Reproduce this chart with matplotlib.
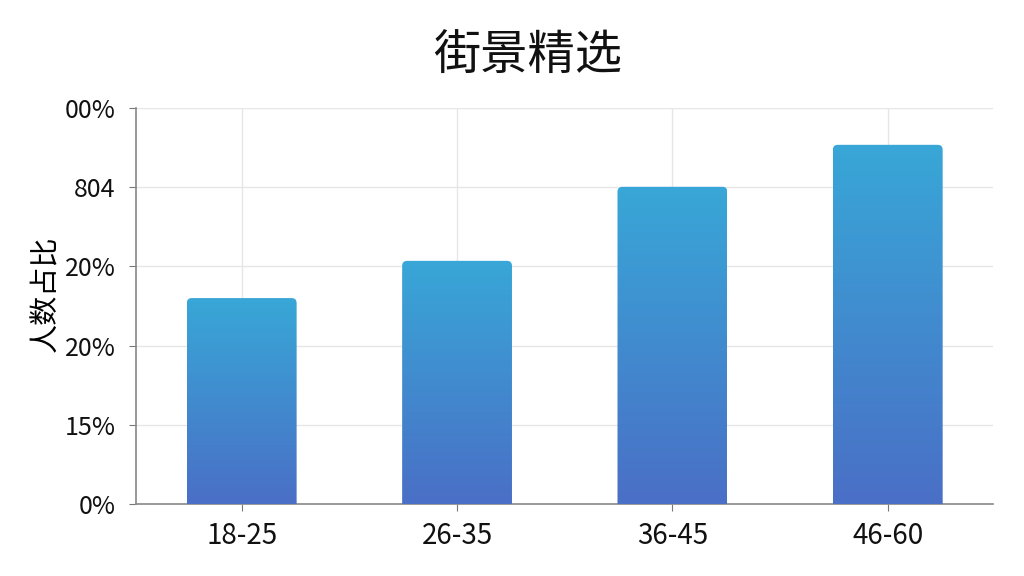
import numpy as np
import matplotlib
matplotlib.use('Agg')
import matplotlib.pyplot as plt
from matplotlib.patches import FancyBboxPatch
from matplotlib.colors import LinearSegmentedColormap

plt.rcParams['font.family'] = ['Noto Sans CJK SC', 'DejaVu Sans']

# data
groups = ['18-25', '26-35', '36-45', '46-60']
shares = [52.0, 61.4, 80.1, 90.7]
ytick_pos = [0, 20, 40, 60, 80, 100]
ytick_labels = ['0%', '15%', '20%', '20%', '804', '00%']

fig = plt.figure(figsize=(10.24, 5.76), dpi=100)
ax = fig.add_axes([0.133, 0.125, 0.837, 0.6875])

x = np.arange(len(groups))
bars = ax.bar(x, shares, width=0.51, color='none', zorder=3)

ax.set_xlim(-0.49, 3.49)
ax.set_ylim(0, 100)

cmap = LinearSegmentedColormap.from_list('bar', ['#4a6fc6', '#38a7d7'])
grad = np.linspace(0, 1, 256).reshape(-1, 1)

# pixel-per-unit ratio for rounded corners
fig.canvas.draw()
bb = ax.get_window_extent()
px_x = bb.width / 3.98
px_y = bb.height / 100.0
aspect = px_x / px_y
for b in bars:
    x0, w, h = b.get_x(), b.get_width(), b.get_height()
    patch = FancyBboxPatch((x0, -5), w, h + 5,
                           boxstyle='round,pad=0,rounding_size=%f' % (5 / px_x),
                           mutation_aspect=aspect,
                           facecolor='none', edgecolor='none',
                           transform=ax.transData)
    ax.add_patch(patch)
    im = ax.imshow(grad, cmap=cmap, origin='lower', aspect='auto',
                   extent=(x0, x0 + w, 0, h), zorder=3)
    im.set_clip_path(patch)

ax.set_xlim(-0.49, 3.49)
ax.set_ylim(0, 100)

ax.set_xticks(x)
ax.set_xticklabels(groups, fontsize=20)
ax.set_yticks(ytick_pos)
ax.set_yticklabels(ytick_labels, fontsize=18)
ax.tick_params(axis='both', colors='#777777', length=5, width=0.8)
ax.tick_params(axis='both', labelcolor='#111111')
ax.tick_params(axis='x', pad=7)
ax.tick_params(axis='y', pad=10)

ax.grid(True, color='#e6e6e6', linewidth=1, zorder=0)
ax.set_axisbelow(True)
for s in ['top', 'right']:
    ax.spines[s].set_visible(False)
for s in ['left', 'bottom']:
    ax.spines[s].set_color('#888888')
    ax.spines[s].set_linewidth(1.2)

ax.set_ylabel('人数占比', fontsize=21)
ax.yaxis.set_label_coords(-0.088, 0.53)
fig.text(0.515, 0.903, '街景精选', fontsize=34, ha='center', va='center',
         color='#111111')

plt.savefig('out.png', dpi=100)
